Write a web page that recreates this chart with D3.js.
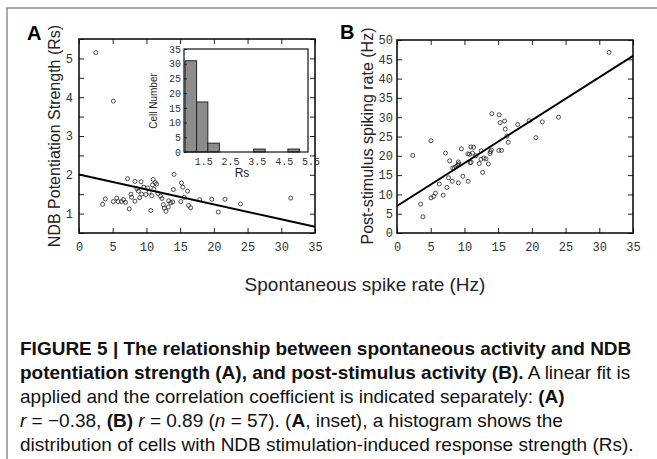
<!DOCTYPE html>
<html>
<head>
<meta charset="utf-8">
<script src="https://cdn.jsdelivr.net/npm/d3@7"></script>
<style>
body{margin:0;background:#fff;}
</style>
</head>
<body>
<div class="canvas"></div>
<script>
// panel A: spontaneous rate (Hz) vs NDB potentiation strength (Rs)
const spontA = [2.5,5.1,3.5,3.9,5.1,5.6,5.8,6.3,6.9,7.45,7.2,8.3,9.2,7.7,7.8,8.3,8.8,9.0,9.3,9.6,9.9,10.65,10.8,10.9,11.0,11.3,11.1,11.7,12.3,12.5,12.65,12.9,13.25,13.6,14.1,14.0,13.9,15.1,15.2,15.4,15.6,16.1,16.25,16.55,17.9,19.7,21.65,20.65,23.95,31.4,10.4,11.5,8.6,12.1,13.3,6.6,10.2];
const rsA = [5.15,3.9,1.24,1.38,1.31,1.40,1.31,1.31,1.29,1.12,1.90,1.83,1.82,1.50,1.42,1.32,1.58,1.41,1.50,1.68,1.49,1.08,1.46,1.74,1.88,1.80,1.63,1.52,1.39,1.23,1.14,1.06,1.17,1.28,2.01,1.62,1.30,1.31,1.79,1.68,1.42,1.58,1.21,1.15,1.36,1.37,1.37,1.04,1.25,1.40,1.55,1.76,1.64,1.45,1.33,1.36,1.66];
const fitA = [2.01, -0.0386]; // intercept, slope

// panel B: spontaneous rate vs post-stimulus rate (Hz)
const spontB = [2.35,3.5,3.85,5.04,5.04,5.45,5.7,6.27,6.85,7.2,7.4,7.65,7.8,8.2,8.25,8.75,9.1,9.1,9.15,9.55,9.77,10.55,10.75,10.85,10.96,11.2,11.35,11.7,12.2,12.45,12.5,12.7,13.2,13.55,13.8,13.85,14.07,15.15,15.3,15.95,16.05,16.3,16.5,15.1,15.5,17.9,19.6,21.55,23.95,20.6,31.45,10.5,9.0,12.9,14.0,11.0,8.5];
const postB = [20.1,7.5,4.2,23.9,9.1,9.5,10.3,12.7,9.8,20.7,11.8,14.3,18.7,13.4,16.8,17.2,18.4,13.0,17.9,21.8,14.7,13.4,20.4,18.2,22.3,20.7,22.2,20.0,18.0,19.1,21.3,15.7,19.2,17.9,20.6,21.1,30.9,30.6,28.6,29.0,26.9,25.1,23.5,21.4,21.4,28.1,29.1,28.8,30.0,24.7,46.8,20.5,17.6,19.4,21.5,18.3,16.9];
const fitB = [7.0, 1.111];

// inset histogram of Rs
const binEdges = [0.82,1.25,1.67,2.10,2.53,2.95,3.38,3.81,4.24,4.66,5.09];
const binCounts = [31,17,3,0,0,0,1,0,0,1];

// tick labels
const xTicks = [0,5,10,15,20,25,30,35];
const yTicksA = [1,2,3,4,5];
const yTicksB = [0,5,10,15,20,25,30,35,40,45,50];
const insetXTicks = [1.5,2.5,3.5,4.5,5.5];
const insetYTicks = [0,5,10,15,20,25,30,35];

const caption = [
  [["FIGURE 5 | The relationship between spontaneous activity and NDB","b"]],
  [["potentiation strength (A), and post-stimulus activity (B).","b"],[" A linear fit is",""]],
  [["applied and the correlation coefficient is indicated separately: ",""],["(A)","b"]],
  [["r","i"],[" = \u22120.38, ",""],["(B) ","b"],["r","i"],[" = 0.89 (",""],["n","i"],[" = 57). (",""],["A","b"],[", inset), a histogram shows the",""]],
  [["distribution of cells with NDB stimulation-induced response strength (Rs).",""]]
];

const svg = d3.select('.canvas')
.append('svg')
    .attr('width', 657)
    .attr('height', 459)
    .style('font-family', 'Liberation Sans, Arial, sans-serif');

svg.append('rect')
    .attr('width', 657).attr('height', 459).attr('fill', '#fff');

// frame round the figure
svg.append('rect')
    .attr('x', 7).attr('y', 8)
    .attr('width', 700).attr('height', 500)
    .attr('fill', 'none')
    .attr('stroke', '#8a8a8a')
    .attr('stroke-width', 1.5);

const tickFont = 'Liberation Mono, DejaVu Sans Mono, monospace';

// draws a boxed panel with inward ticks on all sides
const drawPanel = (x, y, yTickVals, yFmt, yPad) => {
  const g = svg.append('g');
  const [x0, x1] = x.range();
  const [y0, y1] = y.range();

  const xAxis = d3.axisBottom(x).tickValues(xTicks).tickSizeInner(-5).tickSizeOuter(0).tickPadding(9);
  const yAxis = d3.axisLeft(y).tickValues(yTickVals).tickFormat(yFmt).tickSizeInner(-5).tickSizeOuter(0).tickPadding(yPad);
  const xTop = d3.axisTop(x).tickValues(xTicks).tickFormat('').tickSizeInner(-5).tickSizeOuter(0);
  const yRight = d3.axisRight(y).tickValues(yTickVals).tickFormat('').tickSizeInner(-5).tickSizeOuter(0);

  g.append('g').attr('transform', `translate(0,${y0})`).call(xAxis);
  g.append('g').attr('transform', `translate(${x0},0)`).call(yAxis);
  g.append('g').attr('transform', `translate(0,${y1})`).call(xTop);
  g.append('g').attr('transform', `translate(${x1},0)`).call(yRight);

  g.selectAll('.domain').remove();
  g.selectAll('.tick line').attr('stroke', '#222');
  g.selectAll('.tick text')
    .attr('fill', '#333')
    .style('font-family', tickFont)
    .style('font-size', '12px');

  g.append('rect')
    .attr('x', x0).attr('y', y1)
    .attr('width', x1 - x0).attr('height', y0 - y1)
    .attr('fill', 'none')
    .attr('stroke', '#111')
    .attr('stroke-width', 1.6);
  return g;
};

//scales
const xA = d3.scaleLinear().domain([0, 35]).range([79, 315]);
const yA = d3.scaleLinear().domain([0.5, 5.5]).range([233, 39]);
const xB = d3.scaleLinear().domain([0, 35]).range([397, 633]);
const yB = d3.scaleLinear().domain([0, 50]).range([233, 40]);

const gA = drawPanel(xA, yA, d3.range(0.5, 5.51, 0.5), d => yTicksA.includes(d) ? d : '', 6);
const gB = drawPanel(xB, yB, yTicksB, d => d, 4);

// scatter A
gA.selectAll('circle')
  .data(spontA.map((s, i) => [s, rsA[i]]))
  .enter().append('circle')
    .attr('cx', d => xA(d[0]))
    .attr('cy', d => yA(d[1]))
    .attr('r', 2)
    .attr('fill', 'none')
    .attr('stroke', '#222')
    .attr('stroke-width', 0.8);

gA.append('line')
  .attr('x1', xA(0)).attr('y1', yA(fitA[0]))
  .attr('x2', xA(35)).attr('y2', yA(fitA[0] + fitA[1] * 35))
  .attr('stroke', '#000').attr('stroke-width', 2);

// scatter B
gB.selectAll('circle')
  .data(spontB.map((s, i) => [s, postB[i]]))
  .enter().append('circle')
    .attr('cx', d => xB(d[0]))
    .attr('cy', d => yB(d[1]))
    .attr('r', 2)
    .attr('fill', 'none')
    .attr('stroke', '#222')
    .attr('stroke-width', 0.8);

gB.append('line')
  .attr('x1', xB(0)).attr('y1', yB(fitB[0]))
  .attr('x2', xB(35)).attr('y2', yB(fitB[0] + fitB[1] * 35))
  .attr('stroke', '#000').attr('stroke-width', 2);

// inset histogram
const xIn = d3.scaleLinear().domain([0.78, 5.41]).range([184, 308]);
const yIn = d3.scaleLinear().domain([0, 35]).range([152, 49]);
const gIn = svg.append('g');

gIn.append('rect')
  .attr('x', 184).attr('y', 49)
  .attr('width', 124).attr('height', 103)
  .attr('fill', '#fff');

gIn.selectAll('rect.bar')
  .data(binCounts.map((c, i) => ({c, x0: binEdges[i], x1: binEdges[i + 1]})).filter(d => d.c > 0))
  .enter().append('rect')
    .attr('class', 'bar')
    .attr('x', d => xIn(d.x0))
    .attr('width', d => xIn(d.x1) - xIn(d.x0))
    .attr('y', d => yIn(d.c))
    .attr('height', d => yIn(0) - yIn(d.c))
    .attr('fill', '#8c8c8c')
    .attr('stroke', '#222')
    .attr('stroke-width', 1);

gIn.append('g').attr('transform', 'translate(0,152)')
  .call(d3.axisBottom(xIn).tickValues(insetXTicks).tickSizeInner(0).tickSizeOuter(0).tickPadding(6));
gIn.append('g').attr('transform', 'translate(184,0)')
  .call(d3.axisLeft(yIn).tickValues(insetYTicks).tickSizeInner(-3).tickSizeOuter(0).tickPadding(3));
gIn.selectAll('.domain').remove();
gIn.selectAll('.tick line').attr('stroke', '#222');
gIn.selectAll('.tick text')
  .attr('fill', '#333')
  .style('font-family', tickFont)
  .style('font-size', '10px');

gIn.append('rect')
  .attr('x', 184).attr('y', 49)
  .attr('width', 124).attr('height', 103)
  .attr('fill', 'none')
  .attr('stroke', '#111')
  .attr('stroke-width', 1.2);

gIn.append('text')
  .attr('transform', 'translate(157,101) rotate(-90)')
  .attr('text-anchor', 'middle')
  .style('font-size', '10px')
  .attr('fill', '#222')
  .text('Cell Number');

gIn.append('text')
  .attr('x', 242).attr('y', 177)
  .attr('text-anchor', 'middle')
  .style('font-size', '12px')
  .attr('fill', '#222')
  .text('Rs');

// panel letters and axis titles
svg.append('text').attr('x', 27).attr('y', 40)
  .style('font-size', '20px').style('font-weight', 'bold').text('A');
svg.append('text').attr('x', 340).attr('y', 39)
  .style('font-size', '20px').style('font-weight', 'bold').text('B');

svg.append('text')
  .attr('transform', 'translate(60,136) rotate(-90)')
  .attr('text-anchor', 'middle')
  .style('font-size', '16px')
  .attr('fill', '#222')
  .text('NDB Potentiation Strength (Rs)');

svg.append('text')
  .attr('transform', 'translate(373,136) rotate(-90)')
  .attr('text-anchor', 'middle')
  .style('font-size', '16px')
  .attr('fill', '#222')
  .text('Post-stimulus spiking rate (Hz)');

svg.append('text')
  .attr('x', 365).attr('y', 291)
  .attr('text-anchor', 'middle')
  .style('font-size', '19px')
  .attr('fill', '#222')
  .text('Spontaneous spike rate (Hz)');

//caption
const cap = svg.append('g').style('font-size', '19px').attr('fill', '#111');
caption.forEach((line, i) => {
  const t = cap.append('text')
    .attr('x', 20).attr('y', 355 + i * 24)
    .style('white-space', 'pre');
  line.forEach(seg => {
    t.append('tspan')
      .style('font-weight', seg[1] === 'b' ? 'bold' : 'normal')
      .style('font-style', seg[1] === 'i' ? 'italic' : 'normal')
      .text(seg[0]);
  });
});
</script>
</body>
</html>
